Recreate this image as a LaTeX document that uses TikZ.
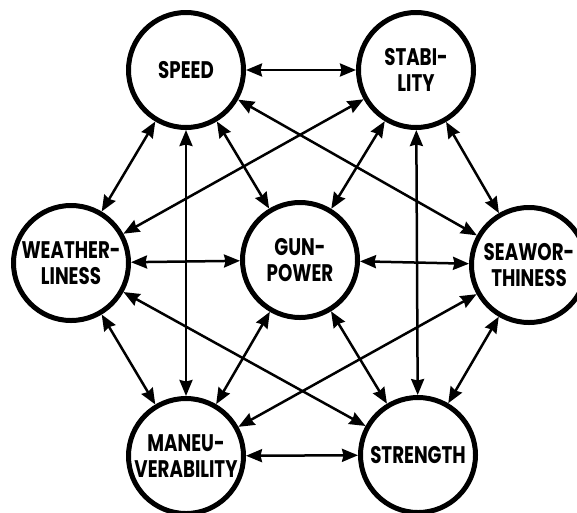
\documentclass[tikz,border=0pt]{standalone}
\usepackage{fontspec}
\setmainfont{Poppins}[FakeStretch=0.76]
\usetikzlibrary{arrows.meta, positioning}
\tikzset{quality/.style={draw, circle, line width=5pt, minimum size=115pt, inner sep=0pt,
             align=center, font=\fontsize{24}{25.5}\selectfont\bfseries},
         link/.style={<->, line width=2.5pt},
         >={Stealth[length=16pt, width=13pt, inset=1.5pt]}}

\begin{document}
\begin{tikzpicture}[x=1pt, y=-1pt]
        \useasboundingbox (0,0) rectangle (577,512);
        \clip (0,0) rectangle (577,512);
        \node[quality] (gun) at (300,260) {GUN-\\POWER};
        \node[quality] (speed) at (186,70) {SPEED};
        \node[quality] (stab) at (416,70) {STABI-\\LITY};
        \node[quality] (weather) at (71,263) {WEATHER-\\LINESS};
        \node[quality] (sea) at (529,265) {SEAWOR-\\THINESS};
        \node[quality] (maneu) at (186,456) {MANEU-\\VERABILITY};
        \node[quality] (strength) at (418,455) {STRENGTH};

        \draw[link] (speed) -- (stab);
        \draw[link] (speed) -- (weather);
        \draw[link] (speed) -- (gun);
        \draw[link] (speed) -- (maneu);
        \draw[link] (speed) -- (sea);
        \draw[link] (stab) -- (weather);
        \draw[link] (stab) -- (gun);
        \draw[link] (stab) -- (strength);
        \draw[link] (stab) -- (sea);
        \draw[link] (weather) -- (gun);
        \draw[link] (weather) -- (strength);
        \draw[link] (weather) -- (maneu);
        \draw[link] (gun) -- (sea);
        \draw[link] (gun) -- (maneu);
        \draw[link] (gun) -- (strength);
        \draw[link] (sea) -- (maneu);
        \draw[link] (sea) -- (strength);
        \draw[link] (maneu) -- (strength);
    \end{tikzpicture}
\end{document}
